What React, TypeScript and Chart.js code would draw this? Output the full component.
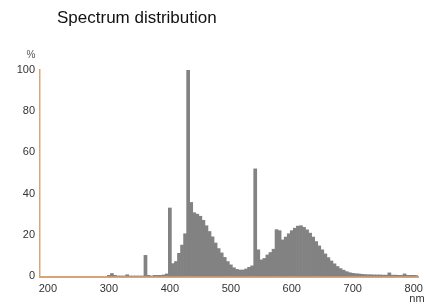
import React, { useEffect, useRef } from "react";
import { Chart, registerables } from "chart.js";

Chart.register(...registerables);

const chartTitle = "Spectrum distribution";
const yUnit = "%";
const xUnit = "nm";

const wavelengths = [
  300, 305, 310, 315, 320, 325, 330, 335, 340, 345, 350, 355, 360, 365, 370, 375, 380, 385, 390, 395,
  400, 405, 410, 415, 420, 425, 430, 435, 440, 445, 450, 455, 460, 465, 470, 475, 480, 485, 490, 495,
  500, 505, 510, 515, 520, 525, 530, 535, 540, 545, 550, 555, 560, 565, 570, 575, 580, 585, 590, 595,
  600, 605, 610, 615, 620, 625, 630, 635, 640, 645, 650, 655, 660, 665, 670, 675, 680, 685, 690, 695,
  700, 705, 710, 715, 720, 725, 730, 735, 740, 745, 750, 755, 760, 765, 770, 775, 780, 785, 790, 795,
  800, 805,
];

const intensity = [
  0.3, 1.2, 0.3, 0, 0, 0, 0.6, 0, 0, 0, 0, 0, 10, 0.3, 0, 0.3, 0.3, 0.3, 0.5, 1,
  33, 6, 7, 11, 15, 20.5, 100, 35.7, 30.7, 30, 29, 27, 24.4, 21.6, 19, 16, 13.3, 11.2, 9, 7,
  5.4, 4, 3.2, 2.9, 2.9, 3.4, 4.2, 4.9, 52, 12.7, 7.8, 8.5, 10.2, 11.4, 13, 22.5, 22, 17.5, 18.9, 20.5,
  22, 23.2, 24.2, 24.4, 23.6, 22.4, 20.8, 18.9, 16.7, 14.6, 12.7, 10.7, 8.9, 7.3, 5.9, 4.6, 3.6, 2.8, 2.1, 1.6,
  1.3, 1.1, 1.0, 0.8, 0.7, 0.6, 0.6, 0.5, 0.5, 0.5, 0.4, 0.4, 1.5, 0.4, 0.4, 0.3, 0.3, 1.0, 0.3, 0.3,
  0.3, 0.2,
];

const xTicks = [200, 300, 400, 500, 600, 700, 800];
const yTicks = [0, 20, 40, 60, 80, 100];

const FONT = "'Liberation Sans', Arial, sans-serif";
const AXIS_COLOR = "#d9a578";
const BAR_COLOR = "#828282";
const TEXT_COLOR = "#333333";

const textPlugin = {
  id: "extraText",
  afterDraw(chart: any) {
    const ctx = chart.ctx;
    const area = chart.chartArea;
    ctx.save();
    ctx.fillStyle = "#111111";
    ctx.font = `17px ${FONT}`;
    ctx.textAlign = "left";
    ctx.textBaseline = "alphabetic";
    ctx.fillText(chartTitle, area.left + 17, 23);

    ctx.fillStyle = "#555555";
    ctx.font = `10px ${FONT}`;
    ctx.textAlign = "center";
    ctx.textBaseline = "middle";
    ctx.fillText(yUnit, area.left - 9, 55);

    ctx.fillStyle = TEXT_COLOR;
    ctx.font = `11px ${FONT}`;
    ctx.fillText(xUnit, area.right - 1, 299);
    ctx.restore();
  },
};

export default function App() {
  const canvasRef = useRef<HTMLCanvasElement | null>(null);

  useEffect(() => {
    if (!canvasRef.current) return;
    const chart = new Chart(canvasRef.current, {
      type: "bar",
      data: {
        datasets: [
          {
            data: wavelengths.map((w, i) => ({ x: w, y: intensity[i] })),
            backgroundColor: BAR_COLOR,
            borderWidth: 0,
            barPercentage: 1,
            categoryPercentage: 1,
          },
        ],
      },
      options: {
        responsive: false,
        animation: false,
        events: [],
        layout: { padding: { top: 70, right: 7, left: 0, bottom: 0 } },
        plugins: {
          legend: { display: false },
          tooltip: { enabled: false },
          title: { display: false },
        },
        scales: {
          x: {
            type: "linear",
            min: 187,
            max: 807,
            offset: false,
            grid: { display: false, drawTicks: false },
            border: { display: true, color: AXIS_COLOR, width: 2 },
            ticks: {
              color: TEXT_COLOR,
              font: { family: FONT, size: 11 },
              padding: 5,
              maxRotation: 0,
              autoSkip: false,
              callback: (v: any) => String(v),
            },
            afterBuildTicks: (scale: any) => {
              scale.ticks = xTicks.map((v) => ({ value: v }));
            },
            afterFit: (scale: any) => {
              scale.height = 27;
              scale.paddingLeft = 0;
              scale.paddingRight = 0;
            },
          },
          y: {
            min: -0.5,
            max: 100,
            grid: { display: false, drawTicks: false },
            border: { display: true, color: AXIS_COLOR, width: 1.5 },
            ticks: {
              color: TEXT_COLOR,
              font: { family: FONT, size: 11 },
              padding: 5,
              autoSkip: false,
              callback: (v: any) => String(v),
            },
            afterBuildTicks: (scale: any) => {
              scale.ticks = yTicks.map((v) => ({ value: v }));
            },
            afterFit: (scale: any) => {
              scale.width = 40;
              scale.paddingTop = 0;
              scale.paddingBottom = 0;
            },
          },
        },
      },
      plugins: [textPlugin],
    });
    return () => chart.destroy();
  }, []);

  return (
    <div style={{ position: "absolute", left: 0, top: 0, width: 425, height: 304, background: "#fff" }}>
      <canvas ref={canvasRef} width={425} height={304} style={{ display: "block" }} />
    </div>
  );
}
